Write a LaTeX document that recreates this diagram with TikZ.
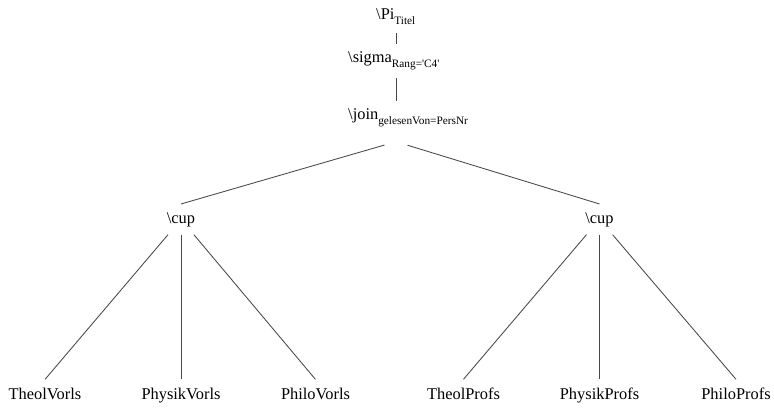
\documentclass[tikz,border=0pt]{standalone}
\usepackage{fontspec}
\setmainfont{Liberation Serif}
\newcommand\lowsub[1]{\raisebox{-4.5pt}{\fontsize{11.3}{13}\selectfont #1}}
\begin{document}
\begin{tikzpicture}[x=1pt,y=-1pt,
  every node/.style={inner xsep=0pt,inner ysep=8pt,font=\fontsize{16.4}{19}\selectfont},
  op/.style={anchor=base west},
  setop/.style={anchor=base,inner xsep=4pt},
  rel/.style={anchor=base},
  edge/.style={draw=black!72,line width=0.85pt}]
\useasboundingbox (0,0) rectangle (774,409);

% operator chain
\node[op] (pi) at (376,20) {\textbackslash Pi\lowsub{Titel}};
\node[op] (sigma) at (348,63) {\textbackslash sigma\lowsub{Rang=\textquotesingle C4\textquotesingle}};
\node[op,text depth=13.5pt] (join) at (348,120) {\textbackslash join\lowsub{gelesenVon=PersNr}};

% unions
\node[setop] (cupL) at (181,223) {\textbackslash cup};
\node[setop] (cupR) at (599.5,223) {\textbackslash cup};

% base relations
\node[rel] (tv) at (45,399) {TheolVorls};
\node[rel] (pv) at (181,399) {PhysikVorls};
\node[rel] (hv) at (315.5,399) {PhiloVorls};
\node[rel] (tp) at (463.5,399) {TheolProfs};
\node[rel] (pp) at (599.5,399) {PhysikProfs};
\node[rel] (hp) at (736,399) {PhiloProfs};

% connectors
\draw[edge] (pi.south -| 396,0) -- (396,0 |- sigma.north);
\draw[edge] (sigma.south -| 396,0) -- (join.north -| 396,0);
\draw[edge,shorten <=12pt] (join.south -| 396,0) -- (cupL.north);
\draw[edge,shorten <=12pt] (join.south -| 396,0) -- (cupR.north);
\draw[edge] (cupL) -- (tv.north);
\draw[edge] (cupL) -- (pv.north);
\draw[edge] (cupL) -- (hv.north);
\draw[edge] (cupR) -- (tp.north);
\draw[edge] (cupR) -- (pp.north);
\draw[edge] (cupR) -- (hp.north);
\end{tikzpicture}
\end{document}
